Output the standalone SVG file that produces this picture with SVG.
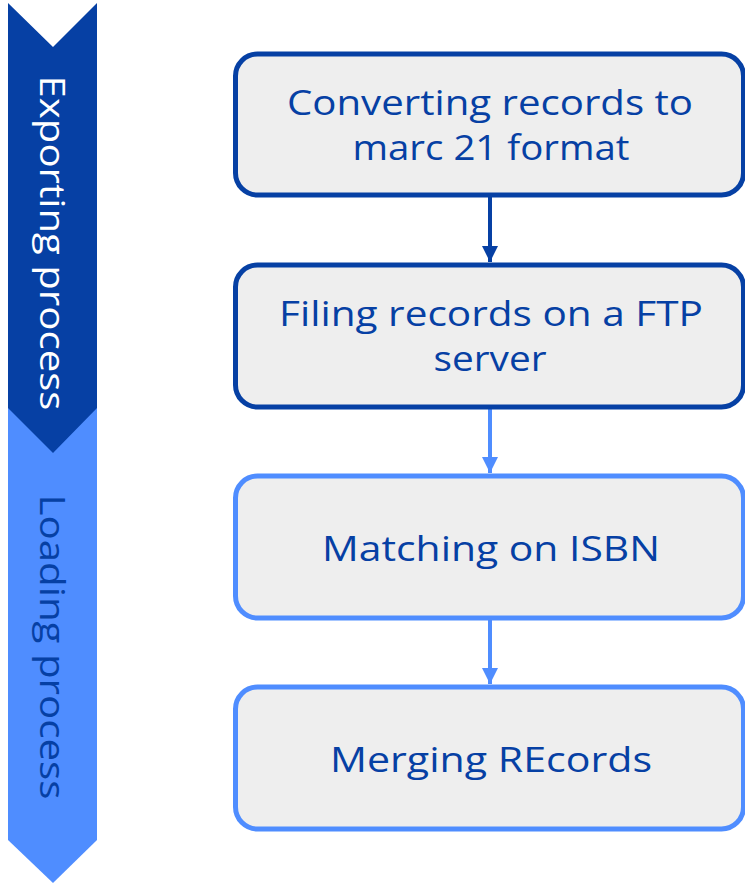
<svg xmlns="http://www.w3.org/2000/svg" width="745" height="883" viewBox="0 0 745 883">
<style>
.box{fill:#EEEEEE;stroke-width:5}
.dk{stroke:#0640A4}
.lt{stroke:#4F8DFF}
.t{font-family:"Open Sans","Liberation Sans",sans-serif;font-size:34px;fill:#0640A4;text-anchor:middle}
.bt{font-family:"Open Sans","Liberation Sans",sans-serif;font-size:34px}
.cd{stroke:#0640A4;stroke-width:4;fill:none}
.cl{stroke:#4F8DFF;stroke-width:4;fill:none}
</style>
<defs>
<marker id="ad" markerUnits="userSpaceOnUse" markerWidth="16" markerHeight="16" viewBox="0 0 16 16" refX="16" refY="8" orient="auto"><path d="M0,0 L16,8 L0,16 Z" fill="#0640A4"/></marker>
<marker id="al" markerUnits="userSpaceOnUse" markerWidth="16" markerHeight="16" viewBox="0 0 16 16" refX="16" refY="8" orient="auto"><path d="M0,0 L16,8 L0,16 Z" fill="#4F8DFF"/></marker>
</defs>
<g id="banner-loading">
<polygon points="8,405 97,405 97,840 53,883 8,840" fill="#4F8DFF"/>
<text class="bt" fill="#0640A4" transform="translate(40,647) rotate(90)" text-anchor="middle" textLength="305" lengthAdjust="spacingAndGlyphs">Loading process</text>
</g>
<g id="banner-exporting">
<polygon points="8,3 53,47 97,3 97,408 53,453 8,408" fill="#0640A4"/>
<text class="bt" fill="#FFFFFF" transform="translate(40,243) rotate(90)" text-anchor="middle" textLength="335" lengthAdjust="spacingAndGlyphs">Exporting process</text>
</g>
<g id="connectors">
<line class="cd" x1="490" y1="197" x2="490" y2="262" marker-end="url(#ad)"/>
<line class="cl" x1="490" y1="408" x2="490" y2="473" marker-end="url(#al)"/>
<line class="cl" x1="490" y1="620" x2="490" y2="684" marker-end="url(#al)"/>
</g>
<g id="n1">
<rect class="box dk" x="235.5" y="54" width="508" height="141" rx="22"/>
<text class="t" x="490" y="115" textLength="406" lengthAdjust="spacingAndGlyphs">Converting records to</text>
<text class="t" x="491" y="160" textLength="277" lengthAdjust="spacingAndGlyphs">marc 21 format</text>
</g>
<g id="n2">
<rect class="box dk" x="235.5" y="265" width="508" height="142" rx="22"/>
<text class="t" x="491" y="326" textLength="424" lengthAdjust="spacingAndGlyphs">Filing records on a FTP</text>
<text class="t" x="490" y="371" textLength="113" lengthAdjust="spacingAndGlyphs">server</text>
</g>
<g id="n3">
<rect class="box lt" x="235.5" y="476" width="508" height="142" rx="22"/>
<text class="t" x="491" y="561" textLength="338" lengthAdjust="spacingAndGlyphs">Matching on ISBN</text>
</g>
<g id="n4">
<rect class="box lt" x="235.5" y="687" width="508" height="142" rx="22"/>
<text class="t" x="491" y="772" textLength="322" lengthAdjust="spacingAndGlyphs">Merging REcords</text>
</g>
</svg>
